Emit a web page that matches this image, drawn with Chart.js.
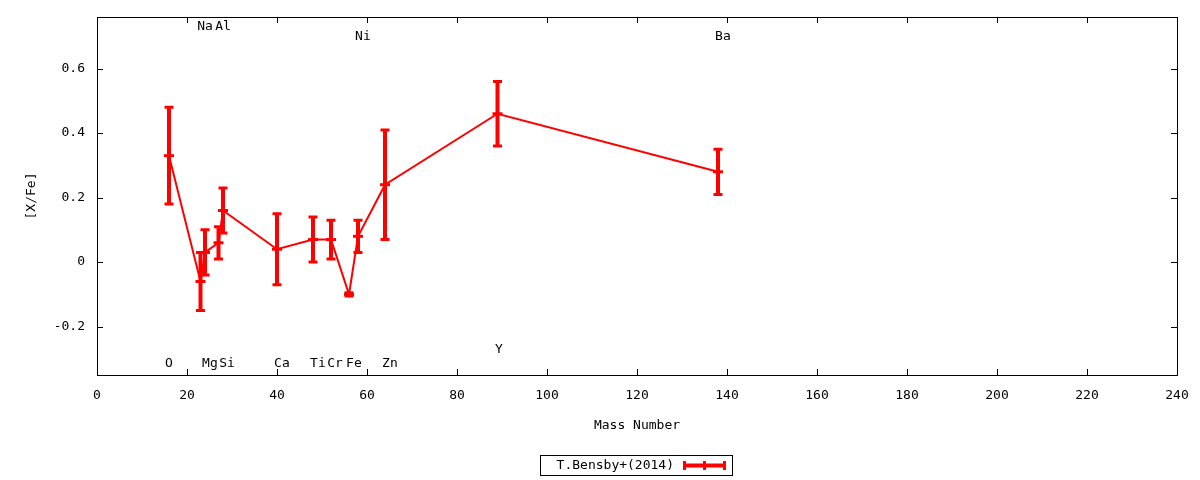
<!DOCTYPE html>
<html><head><meta charset="utf-8">
<script src="https://cdn.jsdelivr.net/npm/chart.js@4.4.0/dist/chart.umd.min.js"></script>
<style>html,body{margin:0;padding:0;background:#fff}#wrap{width:1200px;height:480px;position:relative}</style>
</head><body><div id="wrap"><canvas id="c"></canvas></div>
<script>
const elements = ['O','Na','Mg','Al','Si','Ca','Ti','Cr','Fe','Ni','Zn','Y','Ba'];
const massNumbers = [16,23,24,27,28,40,48,52,56,58,64,89,138];
const xFe = [0.33,-0.06,0.03,0.06,0.16,0.04,0.07,0.07,-0.10,0.08,0.24,0.46,0.28];
const xFeErr = [0.15,0.09,0.07,0.05,0.07,0.11,0.07,0.06,0.005,0.05,0.17,0.10,0.07];
const labelX = [16,24,25.1,28,28.9,41.1,49.1,52.9,57.1,59.1,65.1,89.3,139.1];
const labelY = [-0.315,0.73,-0.315,0.73,-0.315,-0.315,-0.315,-0.315,-0.315,0.70,-0.315,-0.271,0.70];
const xTicks = [0,20,40,60,80,100,120,140,160,180,200,220,240];
const yTicks = [-0.2,0,0.2,0.4,0.6];
const seriesName = 'T.Bensby+(2014)';
const xTitle = 'Mass Number';
const yTitle = '[X/Fe]';

const FONT = "'DejaVu Sans Mono', monospace";
const RED = '#ff0000';

const framePlugin = {
  id: 'frame',
  afterDraw(chart) {
    const ctx = chart.ctx, a = chart.chartArea;
    const xs = chart.scales.x, ys = chart.scales.y;
    ctx.save();
    ctx.strokeStyle = '#000';
    ctx.lineWidth = 1;
    ctx.strokeRect(Math.round(a.left) + 0.5, Math.round(a.top) + 0.5, Math.round(a.right - a.left), Math.round(a.bottom - a.top));
    ctx.beginPath();
    xTicks.forEach(v => {
      const px = Math.round(xs.getPixelForValue(v)) + 0.5;
      ctx.moveTo(px, a.bottom); ctx.lineTo(px, a.bottom - 6);
      ctx.moveTo(px, a.top); ctx.lineTo(px, a.top + 6);
    });
    yTicks.forEach(v => {
      const py = Math.round(ys.getPixelForValue(v)) + 0.5;
      ctx.moveTo(a.left, py); ctx.lineTo(a.left + 6, py);
      ctx.moveTo(a.right, py); ctx.lineTo(a.right - 6, py);
    });
    ctx.stroke();
    // element labels
    ctx.fillStyle = '#000';
    ctx.font = '13px ' + FONT;
    ctx.textAlign = 'center';
    ctx.textBaseline = 'middle';
    elements.forEach((el, i) => {
      ctx.fillText(el, xs.getPixelForValue(labelX[i]), ys.getPixelForValue(labelY[i]));
    });
    // legend
    const lx = 540.5, ly = 455.5, lw = 192, lh = 20;
    ctx.strokeRect(lx, ly, lw, lh);
    ctx.textAlign = 'right';
    ctx.fillText(seriesName, 674, 465.5);
    ctx.strokeStyle = RED;
    ctx.lineWidth = 4;
    ctx.beginPath(); ctx.moveTo(684, 465.5); ctx.lineTo(725, 465.5); ctx.stroke();
    ctx.lineWidth = 3;
    ctx.beginPath();
    [684.5, 704.5, 724.5].forEach(x => { ctx.moveTo(x, 461); ctx.lineTo(x, 470); });
    ctx.stroke();
    ctx.restore();
  }
};

const errorBarPlugin = {
  id: 'errbars',
  afterDatasetsDraw(chart) {
    const ctx = chart.ctx, xs = chart.scales.x, ys = chart.scales.y;
    ctx.save();
    ctx.strokeStyle = RED;
    massNumbers.forEach((m, i) => {
      const px = xs.getPixelForValue(m);
      const top = ys.getPixelForValue(xFe[i] + xFeErr[i]);
      const bot = ys.getPixelForValue(xFe[i] - xFeErr[i]);
      ctx.lineWidth = 4;
      ctx.beginPath(); ctx.moveTo(px, top); ctx.lineTo(px, bot); ctx.stroke();
      ctx.lineWidth = 3;
      ctx.beginPath();
      ctx.moveTo(px - 4.5, top); ctx.lineTo(px + 4.5, top);
      ctx.moveTo(px - 4.5, bot); ctx.lineTo(px + 4.5, bot);
      ctx.stroke();
    });
    ctx.restore();
  }
};

new Chart(document.getElementById('c'), {
  type: 'scatter',
  data: {
    datasets: [{
      label: seriesName,
      data: massNumbers.map((m, i) => ({x: m, y: xFe[i]})),
      showLine: true,
      borderColor: RED,
      backgroundColor: RED,
      borderWidth: 2,
      pointStyle: 'line',
      pointRadius: 5,
      pointBorderWidth: 3,
      pointBorderColor: RED,
      pointHoverRadius: 5
    }]
  },
  options: {
    responsive: true,
    maintainAspectRatio: false,
    animation: false,
    events: [],
    layout: {padding: {top: 17, right: 23, left: 0, bottom: 0}},
    plugins: {legend: {display: false}, tooltip: {enabled: false}},
    scales: {
      x: {
        type: 'linear', min: 0, max: 240,
        afterFit(s) { s.height = 105; s.paddingLeft = 0; s.paddingRight = 0; },
        afterBuildTicks(s) { s.ticks = xTicks.map(v => ({value: v})); },
        grid: {display: false, drawTicks: false},
        border: {display: false},
        ticks: {color: '#000', font: {family: FONT, size: 13}, padding: 13, maxRotation: 0, autoSkip: false},
        title: {display: true, text: xTitle, color: '#000', font: {family: FONT, size: 13}, padding: {top: 0, bottom: 47}}
      },
      y: {
        type: 'linear', min: -0.35, max: 0.76,
        afterFit(s) { s.width = 97; s.paddingTop = 0; s.paddingBottom = 0; },
        afterBuildTicks(s) { s.ticks = yTicks.map(v => ({value: v})); },
        grid: {display: false, drawTicks: false},
        border: {display: false},
        ticks: {color: '#000', font: {family: FONT, size: 13}, padding: 12, autoSkip: false},
        title: {display: true, text: yTitle, color: '#000', font: {family: FONT, size: 13}, padding: {top: 24, bottom: 0}}
      }
    }
  },
  plugins: [errorBarPlugin, framePlugin]
});
</script>
</body></html>
